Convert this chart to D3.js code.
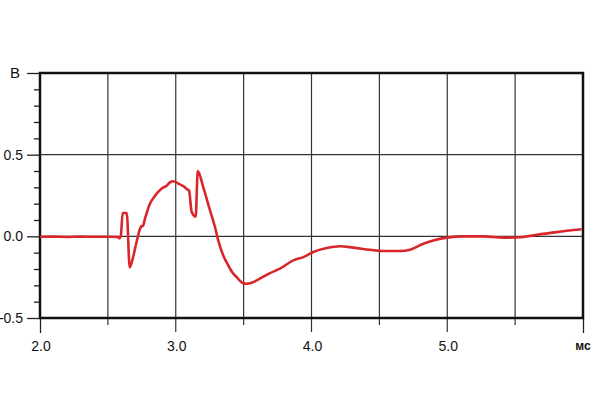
<!DOCTYPE html>
<html><head><meta charset="utf-8">
<script src="https://cdn.jsdelivr.net/npm/d3@7"></script>
<style>html,body{margin:0;padding:0;background:#fff}svg{display:block}</style>
</head><body><svg id="c" width="600" height="420"></svg>
<script>
const timeMs = [2.00,2.10,2.20,2.30,2.40,2.50,2.575,2.585,2.595,2.609,2.639,2.661,2.685,2.707,2.737,2.745,2.759,2.774,2.810,2.840,2.869,2.899,2.933,2.958,2.980,3.019,3.056,3.085,3.098,3.117,3.147,3.162,3.203,3.252,3.289,3.313,3.350,3.375,3.400,3.420,3.449,3.470,3.498,3.520,3.559,3.596,3.694,3.768,3.866,3.940,4.013,4.112,4.210,4.308,4.431,4.529,4.652,4.726,4.824,4.897,4.996,5.118,5.266,5.413,5.536,5.659,5.806,5.990];
const volts  = [-0.003,-0.002,-0.004,-0.002,-0.003,-0.003,-0.004,-0.012,0.0,0.143,0.143,-0.19,-0.13,-0.05,0.047,0.06,0.065,0.11,0.20,0.24,0.27,0.295,0.31,0.33,0.337,0.323,0.307,0.287,0.28,0.15,0.12,0.40,0.30,0.16,0.057,-0.025,-0.117,-0.16,-0.198,-0.225,-0.25,-0.27,-0.288,-0.29,-0.284,-0.27,-0.225,-0.198,-0.147,-0.127,-0.096,-0.072,-0.061,-0.069,-0.082,-0.09,-0.09,-0.082,-0.045,-0.025,-0.008,0.0,0.0,-0.008,-0.006,0.01,0.026,0.043];
const xLabelTicks = [2.0,3.0,4.0,5.0];
const xGridTicks = [2.5,3.0,3.5,4.0,4.5,5.0,5.5];
const yMajorTicks = [-0.5,0.0,0.5,1.0];
const yLabels = ["-0.5","0.0","0.5","В"];
const yMinorTicks = d3.range(-4,10).map(i=>i/10).filter(v=>!yMajorTicks.some(m=>Math.abs(m-v)<1e-9));
const yGrid = [0.0,0.5];

const L=40,R=583,T=73,B=318;
const svg=d3.select("#c");
svg.append("rect").attr("width",600).attr("height",420).attr("fill","#fff");
const x=d3.scaleLinear().domain([2,6]).range([L,R]);
const y=d3.scaleLinear().domain([-0.5,1.0]).range([B,T]);

// grid
svg.append("g").selectAll("line").data(xGridTicks).join("line")
 .attr("x1",d=>x(d)).attr("x2",d=>x(d)).attr("y1",T).attr("y2",d=>B+(Number.isInteger(d)?14:7))
 .attr("stroke","#333").attr("stroke-width",1.2);
svg.append("g").selectAll("line").data(yGrid).join("line")
 .attr("x1",L).attr("x2",R).attr("y1",d=>y(d)).attr("y2",d=>y(d))
 .attr("stroke","#333").attr("stroke-width",1.2);

// y ticks
const ya=svg.append("g").attr("transform",`translate(${L},0)`);
ya.call(d3.axisLeft(y).tickValues(yMajorTicks).tickSize(13).tickFormat(""));
ya.call(g=>g.select(".domain").remove());
ya.selectAll("line").attr("stroke","#222").attr("stroke-width",1.3);
const ym=svg.append("g").attr("transform",`translate(${L},0)`);
ym.call(d3.axisLeft(y).tickValues(yMinorTicks).tickSize(6).tickFormat(""));
ym.call(g=>g.select(".domain").remove());
ym.selectAll("line").attr("stroke","#222").attr("stroke-width",1.3);
svg.append("g").selectAll("text").data(yMajorTicks).join("text")
 .attr("x",(d,i)=>i===3?20:23).attr("y",d=>y(d)+5)
 .attr("text-anchor","end").attr("font-family","Liberation Sans, Arial, sans-serif")
 .attr("font-size",(d,i)=>i===3?15:14).attr("fill","#111").text((d,i)=>yLabels[i]);

// x ticks
const xa=svg.append("g").attr("transform",`translate(0,${B})`);
xa.call(d3.axisBottom(x).tickValues([2,6]).tickSize(15).tickFormat(""));
xa.call(g=>g.select(".domain").remove());
xa.selectAll("line").attr("stroke","#222").attr("stroke-width",1.3);
svg.append("g").selectAll("text").data(xLabelTicks).join("text")
 .attr("x",d=>x(d)+1).attr("y",351).attr("text-anchor","middle")
 .attr("font-family","Liberation Sans, Arial, sans-serif").attr("font-size",14).attr("fill","#111")
 .text(d=>d.toFixed(1));
svg.append("text").attr("x",x(6)).attr("y",350).attr("text-anchor","middle")
 .attr("font-family","Liberation Sans, Arial, sans-serif").attr("font-size",12).attr("font-weight","bold")
 .attr("fill","#111").text("мс");

// frame
svg.append("rect").attr("x",L).attr("y",T).attr("width",R-L).attr("height",B-T)
 .attr("fill","none").attr("stroke","#111").attr("stroke-width",2.5);

// curve
const data=timeMs.map((t,i)=>[t,volts[i]]);
svg.append("path").datum(data)
 .attr("d",d3.line().curve(d3.curveMonotoneX).x(d=>x(d[0])).y(d=>y(d[1])))
 .attr("fill","none").attr("stroke","#d9262b").attr("stroke-width",2.6).attr("stroke-linejoin","round");
</script></body></html>
